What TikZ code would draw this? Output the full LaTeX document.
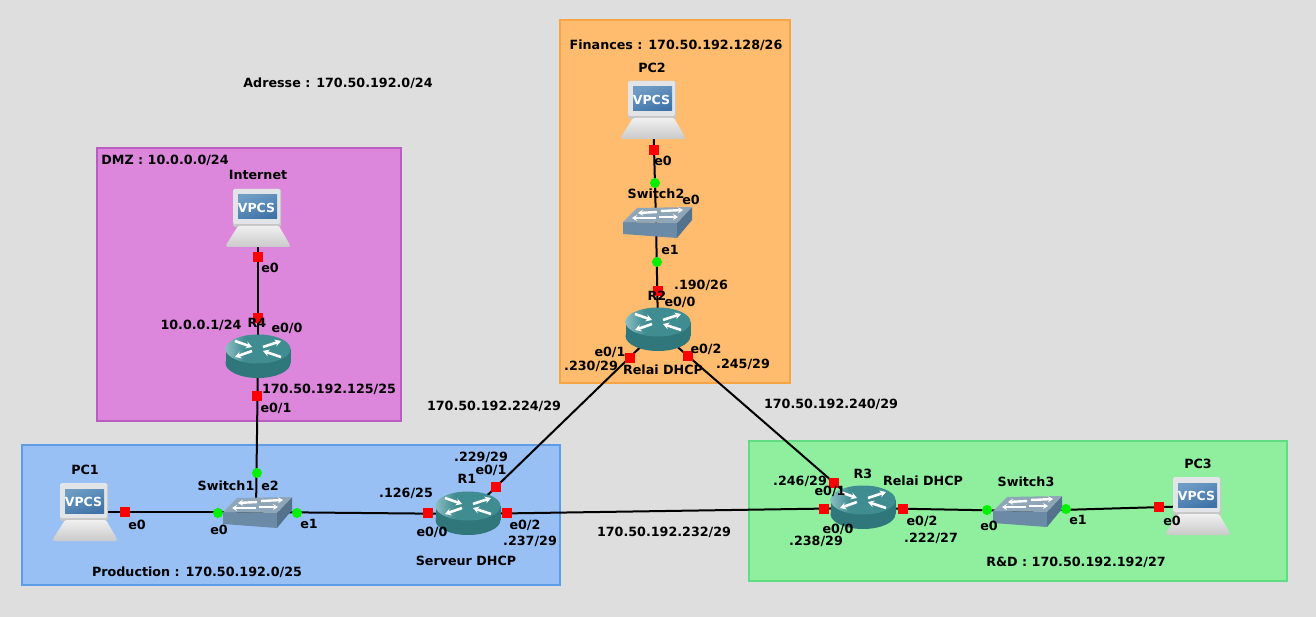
\documentclass[tikz,border=0pt]{standalone}
\usepackage{fontspec}
\setmainfont{DejaVu Sans}
\usetikzlibrary{arrows.meta}
\definecolor{bgc}{HTML}{DEDEDE}
\definecolor{finf}{HTML}{FFBC6E}\definecolor{find}{HTML}{F7A445}
\definecolor{dmzf}{HTML}{DC87DC}\definecolor{dmzd}{HTML}{B95CC4}
\definecolor{prof}{HTML}{98C0F5}\definecolor{prod}{HTML}{5F9CE8}
\definecolor{rdf}{HTML}{90EF9F}\definecolor{rdd}{HTML}{62DC84}
\definecolor{rtop}{HTML}{3F8C91}\definecolor{rside}{HTML}{2F777B}\definecolor{rlight}{HTML}{A4CDD2}
\definecolor{swtop}{HTML}{8FA5B8}\definecolor{swfront}{HTML}{6A8AA6}\definecolor{swside}{HTML}{54728C}
\definecolor{scrA}{HTML}{3F73A8}\definecolor{scrB}{HTML}{6E9CC4}
\definecolor{bezel}{HTML}{E2E4E8}\definecolor{mkgreen}{HTML}{00F000}
\pgfdeclarehorizontalshading{rshade}{100bp}{color(0bp)=(rlight); color(20bp)=(rlight); color(40bp)=(rtop); color(100bp)=(rtop)}
\tikzset{
  x=1pt,y=-1pt,
  zone/.style={draw=#1,line width=1.6pt},
  dev/.style={inner sep=0pt,minimum size=0pt,outer sep=0pt},
  lbl/.style={inner sep=0pt,font=\fontsize{12.7}{14}\selectfont\bfseries,text=black},
  link/.style={draw=black,line width=2pt},
  redm/.style={fill=red,inner sep=0pt,minimum size=10pt},
  greenm/.style={circle,fill=mkgreen,inner sep=0pt,minimum size=10pt},
  router/.pic={
    \fill[rside] (-32.5,-8) rectangle (32.5,6);
    \fill[rside] (0,6) ellipse [x radius=32.5,y radius=15];
    \shade[shading=rshade] (0,-8) ellipse [x radius=32.5,y radius=14.5];
    \begin{scope}[draw=white,line width=2.6pt,-{Stealth[length=6pt,width=7pt]}]
      \draw (-23,-16) -- (-6,-10);
      \draw (5,-10) -- (23,-16);
      \draw (-6,-6) -- (-23,0);
      \draw (23,0) -- (5,-6);
    \end{scope}
  },
  switchbox/.pic={
    \fill[swfront] (-33,0) -- (21,1) -- (21,16) -- (-33,12) -- cycle;
    \fill[swside] (21,1) -- (36,-15) -- (36,-2) -- (21,16) -- cycle;
    \fill[swtop] (-33,0) -- (-19,-14) -- (36,-15) -- (21,1) -- cycle;
    \begin{scope}[draw=white,line width=2.4pt,-{Stealth[length=5pt,width=6pt]}]
      \draw (1,-10) -- (-18,-9);
      \draw (5,-11) -- (27,-12);
      \draw (0,-4) -- (-24,-4);
      \draw (3,-5) -- (22,-5);
    \end{scope}
  },
  vpcs/.pic={
    \fill[gray!45,rounded corners=1.5pt] (-25,-29) rectangle (23,9);
    \fill[bezel,rounded corners=1.5pt] (-25,-29) rectangle (22,6);
    \shade[top color=gray!12,bottom color=gray!42,rounded corners=1.5pt] (-20,8) -- (21,8) -- (32,27) -- (32,29) -- (-32,29) -- (-32,27) -- cycle;
    \shade[left color=scrB,right color=scrA,shading angle=20] (-20,-23) rectangle (19,1);
    \node[inner sep=0pt,text=white,font=\fontsize{12.5}{14}\selectfont\bfseries] (-vlabel) at (-1.5,-10) {VPCS};
  },
}
\begin{document}
\begin{tikzpicture}
\useasboundingbox (0,0) rectangle (1316,617);
\fill[bgc] (0,0) rectangle (1316,617);
\draw[zone=find,fill=finf] (560,20) rectangle (790,383);
\draw[zone=dmzd,fill=dmzf] (97,148) rectangle (401,421);
\draw[zone=prod,fill=prof] (22,445) rectangle (560,585);
\draw[zone=rdd,fill=rdf] (749,441) rectangle (1287,581);

\node[dev] (PC1) at (85,512) {};
\node[dev] (Internet) at (258,218) {};
\node[dev] (PC2) at (653,110) {};
\node[dev] (PC3) at (1198,506) {};
\node[dev] (Switch1) at (256,512) {};
\node[dev] (Switch2) at (656,222) {};
\node[dev] (Switch3) at (1026,511) {};
\node[dev] (R4) at (258,357) {};
\node[dev] (R1) at (468,514) {};
\node[dev] (R2) at (658,330) {};
\node[dev] (R3) at (863,508) {};

\path[link] (Internet.center) -- (R4.center);
\path[link] (R4.center) -- (Switch1.center);
\path[link] (PC1.center) -- (Switch1.center);
\path[link] (Switch1.center) -- (R1.center);
\path[link] (R1.center) -- (R2.center);
\path[link] (R2.center) -- (R3.center);
\path[link] (R1.center) -- (R3.center);
\path[link] (R3.center) -- (Switch3.center);
\path[link] (Switch3.center) -- (PC3.center);
\path[link] (PC2.center) -- (Switch2.center);
\path[link] (Switch2.center) -- (R2.center);

\pic at (PC1) {vpcs};
\pic at (Internet) {vpcs};
\pic at (PC2) {vpcs};
\pic at (PC3) {vpcs};
\pic at (Switch1) {switchbox};
\pic at (Switch2) {switchbox};
\pic at (Switch3) {switchbox};
\pic at (R4) {router};
\pic at (R1) {router};
\pic at (R2) {router};
\pic at (R3) {router};

\foreach \n/\p in {a/{125,512},b/{428,513},c/{507,513},d/{496,487},e/{630,358},f/{688,356},g/{658,291},h/{654,150},i/{258,257},j/{258,318},k/{257,396},l/{824,509},m/{834,483},n/{903,509},o/{1159,507}}
  \node[redm] (mark\n) at (\p) {};
\foreach \n/\p in {p/{218,513},q/{297,513},r/{657,262},s/{655,183},t/{257,473},u/{987,510},v/{1066,509}}
  \node[greenm] (mark\n) at (\p) {};

\foreach \n/\p/\t in {
 l1/{338,83}/{Adresse : 170.50.192.0/24},
 l2/{676,45}/{Finances : 170.50.192.128/26},
 l3/{652,68}/{PC2},
 l4/{663,161}/{e0},
 l5/{656,194}/{Switch2},
 l6/{691,200}/{e0},
 l7/{670,250}/{e1},
 l8/{701,285}/{.190/26},
 l9/{657,296}/{R2},
 l10/{680,302}/{e0/0},
 l11/{610,352}/{e0/1},
 l12/{591,366}/{.230/29},
 l13/{663,370}/{Relai DHCP},
 l14/{706,349}/{e0/2},
 l15/{743,364}/{.245/29},
 l16/{165,160}/{DMZ : 10.0.0.0/24},
 l17/{258,175}/{Internet},
 l18/{270,268}/{e0},
 l19/{201,325}/{10.0.0.1/24},
 l20/{257,323}/{R4},
 l21/{287,328}/{e0/0},
 l22/{329,389}/{170.50.192.125/25},
 l23/{276,408}/{e0/1},
 l24/{494,406}/{170.50.192.224/29},
 l25/{831,404}/{170.50.192.240/29},
 l26/{481,457}/{.229/29},
 l27/{491,470}/{e0/1},
 l28/{467,479}/{R1},
 l29/{406,493}/{.126/25},
 l30/{85,470}/{PC1},
 l31/{226,486}/{Switch1},
 l32/{270,486}/{e2},
 l33/{219,530}/{e0},
 l34/{309,524}/{e1},
 l35/{137,525}/{e0},
 l36/{432,532}/{e0/0},
 l37/{525,525}/{e0/2},
 l38/{530,541}/{.237/29},
 l39/{466,561}/{Serveur DHCP},
 l40/{197,572}/{Production : 170.50.192.0/25},
 l41/{664,532}/{170.50.192.232/29},
 l42/{800,481}/{.246/29},
 l43/{830,491}/{e0/1},
 l44/{863,474}/{R3},
 l45/{923,481}/{Relai DHCP},
 l46/{1026,482}/{Switch3},
 l47/{1198,464}/{PC3},
 l48/{989,526}/{e0},
 l49/{1078,520}/{e1},
 l50/{1172,521}/{e0},
 l51/{838,529}/{e0/0},
 l52/{922,521}/{e0/2},
 l53/{816,541}/{.238/29},
 l54/{931,538}/{.222/27},
 l55/{1076,562}/{R\&D : 170.50.192.192/27}}
  \node[lbl] (\n) at (\p) {\t};
\end{tikzpicture}
\end{document}
